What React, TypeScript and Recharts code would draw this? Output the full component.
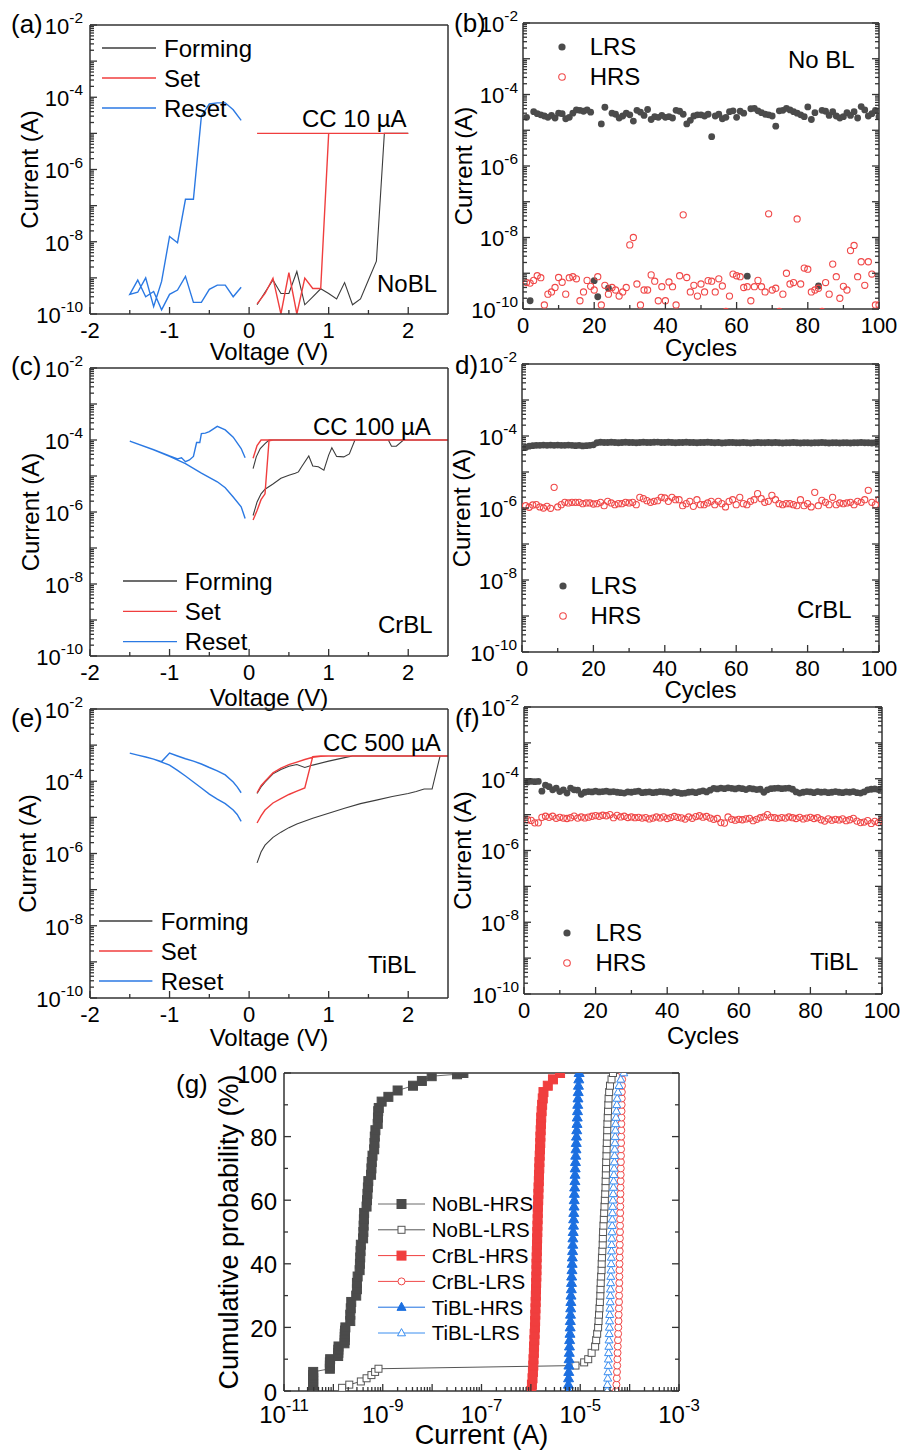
import React from 'react'
import { ComposedChart, Line, Scatter, XAxis, YAxis, Legend } from 'recharts'

const FONT = '"Liberation Sans", Arial, Helvetica, sans-serif'
const INK = '#333333'
const DARK = '#4b4b4b'
const RED = '#f03e3e'
const RED_OPEN = '#f04848'
const BLUE = '#2b79e3'
const LIGHT_BLUE = '#3a8ef0'

// ---------- axis ticks ----------
const DECADES = [1e-10, 1e-9, 1e-8, 1e-7, 1e-6, 1e-5, 1e-4, 1e-3, 1e-2]
const DECADE_LABELS = [1e-10, 1e-8, 1e-6, 1e-4, 1e-2]
const V_TICKS = [-2, -1.5, -1, -0.5, 0, 0.5, 1, 1.5, 2]
const V_LABELS = [-2, -1, 0, 1, 2]
const CYC_TICKS = [0, 10, 20, 30, 40, 50, 60, 70, 80, 90, 100]
const CYC_LABELS = [0, 20, 40, 60, 80, 100]
const G_DECADES = [1e-11, 1e-10, 1e-9, 1e-8, 1e-7, 1e-6, 1e-5, 1e-4, 1e-3]
const G_LABELS = [1e-11, 1e-9, 1e-7, 1e-5, 1e-3]
const PROB_TICKS = [0, 10, 20, 30, 40, 50, 60, 70, 80, 90, 100]
const PROB_LABELS = [0, 20, 40, 60, 80, 100]

// ---------- (a) NoBL I-V ----------
const A_FORM_V = [0.1, 0.2, 0.3, 0.4, 0.5, 0.6, 0.7, 0.8, 0.9, 1.0, 1.1, 1.2, 1.3, 1.4, 1.5, 1.6, 1.7, 1.8, 1.9, 2.0]
const A_FORM_I = [1.8e-10, 4e-10, 8.7e-10, 3.7e-10, 3.7e-10, 1.5e-9, 1.8e-10, 3e-10, 5e-10, 3.7e-10, 2.6e-10, 7.4e-10, 1.8e-10, 2.6e-10, 8.7e-10, 2.9e-9, 1e-5, 1e-5, 1e-5, 1e-5]
const A_SET_V = [0.1, 0.2, 0.3, 0.4, 0.5, 0.6, 0.7, 0.8, 0.9, 1.0, 1.5, 2.0, 1.5, 1.0, 0.5, 0.1]
const A_SET_I = [1.9e-10, 3.7e-10, 9.8e-10, 1e-10, 1.4e-9, 1e-10, 9.8e-10, 5.1e-10, 5.1e-10, 1e-5, 1e-5, 1e-5, 1e-5, 1e-5, 1e-5, 1e-5]
const A_RESET_V = [-0.1, -0.2, -0.3, -0.4, -0.5, -0.6, -0.7, -0.8, -0.9, -1.0, -1.1, -1.2, -1.3, -1.4, -1.5, -1.4, -1.3, -1.2, -1.1, -1.0, -0.9, -0.8, -0.7, -0.6, -0.5, -0.4, -0.3, -0.2, -0.1]
const A_RESET_I = [2.3e-5, 4.5e-5, 7e-5, 7e-5, 6.5e-5, 3e-5, 1.5e-7, 1.5e-7, 9.4e-9, 1.4e-8, 8e-10, 1.6e-10, 1e-9, 4e-10, 3.5e-10, 8.7e-10, 3e-10, 4.2e-10, 1.3e-10, 3.5e-10, 4.6e-10, 1.1e-9, 2.1e-10, 2.1e-10, 4.8e-10, 6.3e-10, 6.3e-10, 3e-10, 5.5e-10]

// ---------- (c) CrBL I-V ----------
const C_FORM_V = [0.05, 0.1, 0.15, 0.2, 0.3, 0.4, 0.5, 0.58, 0.62, 0.66, 0.75, 0.8, 0.87, 0.94, 1.0, 1.04, 1.1, 1.19, 1.26, 1.33, 1.5, 1.75, 1.79, 1.85, 1.94, 2.2, 2.5, 2.0, 1.5, 1.0, 0.5, 0.25, 0.2, 0.14, 0.09, 0.05]
const C_FORM_I = [8e-7, 1.9e-6, 3.2e-6, 4.3e-6, 6e-6, 8.6e-6, 1.05e-5, 1.2e-5, 1.3e-5, 1.8e-5, 3.6e-5, 1.9e-5, 1.8e-5, 1.45e-5, 3.8e-5, 6.1e-5, 3.5e-5, 3.4e-5, 4.1e-5, 1e-4, 1e-4, 1e-4, 6.7e-5, 6.7e-5, 1e-4, 1e-4, 1e-4, 1e-4, 1e-4, 1e-4, 1e-4, 1e-4, 7.9e-5, 5.8e-5, 3.4e-5, 1.6e-5]
const C_SET_V = [0.05, 0.1, 0.15, 0.2, 0.25, 0.3, 1.0, 2.0, 2.5, 2.0, 1.0, 0.3, 0.15, 0.1, 0.05]
const C_SET_I = [6e-7, 1.1e-6, 2.2e-6, 3.2e-6, 9.5e-5, 1e-4, 1e-4, 1e-4, 1e-4, 1e-4, 1e-4, 1e-4, 1e-4, 7e-5, 3.1e-5]
const C_RESET_V = [-0.05, -0.1, -0.2, -0.3, -0.4, -0.5, -0.55, -0.6, -0.62, -0.66, -0.7, -0.75, -0.8, -0.85, -0.9, -1.0, -1.2, -1.5, -1.2, -1.0, -0.8, -0.6, -0.4, -0.3, -0.2, -0.1, -0.05]
const C_RESET_I = [3.2e-5, 5.8e-5, 1.2e-4, 1.9e-4, 2.4e-4, 1.7e-4, 1.55e-4, 1.5e-4, 8.5e-5, 8.5e-5, 3.5e-5, 2.8e-5, 2.5e-5, 3.2e-5, 3.0e-5, 3.6e-5, 5.4e-5, 9.3e-5, 5.3e-5, 3.5e-5, 2.2e-5, 1.2e-5, 6.9e-6, 4.7e-6, 2.6e-6, 1.4e-6, 6.6e-7]

// ---------- (e) TiBL I-V ----------
const E_FORM_V = [0.1, 0.15, 0.2, 0.3, 0.4, 0.5, 0.6, 0.8, 1.0, 1.2, 1.4, 1.6, 1.8, 2.0, 2.1, 2.2, 2.3, 2.4, 2.5, 2.0, 1.5, 1.3, 1.2, 1.0, 0.8, 0.7, 0.6, 0.5, 0.4, 0.3, 0.2, 0.15, 0.1]
const E_FORM_I = [5.5e-7, 1.1e-6, 1.7e-6, 2.8e-6, 3.9e-6, 5.2e-6, 6.6e-6, 9.5e-6, 1.3e-5, 1.8e-5, 2.4e-5, 3e-5, 3.8e-5, 4.6e-5, 5.2e-5, 6.1e-5, 6.1e-5, 5e-4, 5e-4, 5e-4, 5e-4, 5e-4, 4.5e-4, 3.6e-4, 2.8e-4, 2.4e-4, 2.9e-4, 2.6e-4, 2.1e-4, 1.6e-4, 9.5e-5, 7e-5, 4.6e-5]
const E_SET_V = [0.1, 0.15, 0.2, 0.3, 0.4, 0.5, 0.6, 0.7, 0.8, 0.9, 1.5, 2.0, 2.5, 2.0, 1.5, 1.0, 0.9, 0.8, 0.7, 0.6, 0.5, 0.4, 0.3, 0.2, 0.15, 0.1]
const E_SET_I = [7e-6, 1.1e-5, 1.6e-5, 2.5e-5, 3.3e-5, 4.3e-5, 5.3e-5, 6.5e-5, 4.8e-4, 5e-4, 5e-4, 5e-4, 5e-4, 5e-4, 5e-4, 5e-4, 4.9e-4, 4.6e-4, 4e-4, 3.4e-4, 2.9e-4, 2.3e-4, 1.7e-4, 1.0e-4, 7.5e-5, 4.8e-5]
const E_RESET_V = [-0.1, -0.15, -0.2, -0.3, -0.4, -0.5, -0.6, -0.7, -0.8, -0.9, -1.0, -1.1, -1.2, -1.3, -1.4, -1.5, -1.4, -1.3, -1.2, -1.1, -1.0, -0.9, -0.8, -0.7, -0.6, -0.5, -0.4, -0.3, -0.2, -0.15, -0.1]
const E_RESET_I = [4.8e-5, 7e-5, 9.5e-5, 1.5e-4, 1.95e-4, 2.4e-4, 3e-4, 3.6e-4, 4.2e-4, 5e-4, 6e-4, 3.5e-4, 4.1e-4, 4.7e-4, 5.3e-4, 6e-4, 5.3e-4, 4.7e-4, 4.1e-4, 3.4e-4, 2.8e-4, 2e-4, 1.4e-4, 9.5e-5, 6.5e-5, 4.4e-5, 3.2e-5, 2.4e-5, 1.6e-5, 1.2e-5, 7.8e-6]

// ---------- endurance (b, d, f) ----------
const CYCLES = [
  1, 2, 3, 4, 5, 6, 7, 8, 9, 10, 11, 12, 13, 14, 15, 16, 17, 18, 19, 20,
  21, 22, 23, 24, 25, 26, 27, 28, 29, 30, 31, 32, 33, 34, 35, 36, 37, 38, 39, 40,
  41, 42, 43, 44, 45, 46, 47, 48, 49, 50, 51, 52, 53, 54, 55, 56, 57, 58, 59, 60,
  61, 62, 63, 64, 65, 66, 67, 68, 69, 70, 71, 72, 73, 74, 75, 76, 77, 78, 79, 80,
  81, 82, 83, 84, 85, 86, 87, 88, 89, 90, 91, 92, 93, 94, 95, 96, 97, 98, 99, 100,
]

const B_LRS = [
  2.3e-5, 1.7e-10, 3.3e-5, 2.9e-5, 2.7e-5, 2.5e-5, 2.3e-5, 2.6e-5, 2.2e-5, 3.0e-5,
  2.9e-5, 2.1e-5, 2.3e-5, 3.0e-5, 3.7e-5, 3.6e-5, 3.4e-5, 3.7e-5, 3.2e-5, 6.2e-10,
  2.2e-10, 1.5e-5, 4.4e-5, 3.8e-10, 3.0e-5, 2.8e-5, 2.2e-5, 2.5e-5, 3.0e-5, 2.7e-5,
  1.8e-5, 3.6e-5, 3.2e-5, 2.6e-5, 3.8e-5, 2.0e-5, 2.4e-5, 2.3e-5, 2.6e-5, 2.3e-5,
  2.4e-5, 2.2e-5, 3.6e-5, 3.4e-5, 2.8e-5, 1.5e-5, 1.9e-5, 2.5e-5, 2.7e-5, 2.7e-5,
  2.5e-5, 2.8e-5, 6.6e-6, 2.5e-5, 2.8e-5, 2.1e-5, 2.3e-5, 3.3e-5, 3.5e-5, 2.3e-5,
  3.4e-5, 3.0e-5, 8.3e-10, 4.0e-5, 4.1e-5, 3.5e-5, 3.1e-5, 2.8e-5, 2.7e-5, 2.5e-5,
  1.3e-5, 3.5e-5, 3.6e-5, 4.1e-5, 3.7e-5, 3.3e-5, 3.0e-5, 2.7e-5, 2.4e-5, 4.5e-5,
  2.0e-5, 3.1e-5, 4.4e-10, 3.6e-5, 3.4e-5, 2.6e-5, 3.3e-5, 2.5e-5, 2.2e-5, 2.4e-5,
  3.1e-5, 2.6e-5, 3.3e-5, 2.2e-5, 4.6e-5, 3.7e-5, 2.5e-5, 2.9e-5, 3.6e-5, 2.4e-5,
]
const B_HRS = [
  5.5e-10, 5.3e-10, 6.3e-10, 8.5e-10, 7.5e-10, 1.3e-10, 2.6e-10, 3e-10, 4e-10, 7.6e-10,
  5.6e-10, 2.6e-10, 7.5e-10, 8e-10, 7e-10, 1.7e-10, 3e-10, 6.3e-10, 4.3e-10, 3.4e-10,
  8e-10, 1.3e-10, 4.6e-10, 2.6e-10, 4e-10, 3.4e-10, 2.3e-10, 3e-10, 4e-10, 6.2e-9,
  1e-8, 5e-10, 1.3e-10, 3.4e-10, 3.4e-10, 9e-10, 6e-10, 1.7e-10, 4.2e-10, 1.7e-10,
  5.7e-10, 4.2e-10, 1.3e-10, 8.5e-10, 4.3e-8, 7.6e-10, 3e-10, 4.6e-10, 2.3e-10, 5e-10,
  3e-10, 6.2e-10, 6e-10, 3e-10, 7e-10, 4.4e-10, 8.5e-11, 2.3e-10, 9.5e-10, 8.5e-10,
  8e-10, 4e-10, 4.2e-10, 1.7e-10, 4.2e-10, 6.3e-10, 4.2e-10, 3e-10, 4.6e-8, 3.4e-10,
  3.8e-10, 8.5e-11, 2.6e-10, 1e-9, 5e-10, 5.5e-10, 3.3e-8, 5e-10, 1.4e-9, 1.3e-9,
  3e-10, 3.4e-10, 3.8e-10, 8.5e-11, 5.5e-10, 2.6e-10, 1.8e-9, 8e-10, 2e-10, 4.3e-10,
  3.4e-10, 4.3e-9, 6e-9, 8e-10, 2.1e-9, 4.6e-10, 2.1e-9, 9.5e-10, 1.3e-10, 1.3e-10,
]

const D_LRS = [
  4.8e-5, 5.2e-5, 5.4e-5, 5.5e-5, 5.5e-5, 5.6e-5, 5.5e-5, 5.6e-5, 5.5e-5, 5.6e-5,
  5.5e-5, 5.5e-5, 5.6e-5, 5.5e-5, 5.4e-5, 5.5e-5, 5.3e-5, 5.4e-5, 5.5e-5, 5.7e-5,
  6.5e-5, 6.7e-5, 6.6e-5, 6.6e-5, 6.7e-5, 6.6e-5, 6.5e-5, 6.6e-5, 6.7e-5, 6.6e-5,
  6.6e-5, 6.5e-5, 6.6e-5, 6.7e-5, 6.6e-5, 6.6e-5, 6.7e-5, 6.8e-5, 6.6e-5, 6.6e-5,
  6.7e-5, 6.6e-5, 6.5e-5, 6.6e-5, 6.6e-5, 6.7e-5, 6.6e-5, 6.6e-5, 6.5e-5, 6.6e-5,
  6.6e-5, 6.7e-5, 6.6e-5, 6.5e-5, 6.6e-5, 6.4e-5, 6.5e-5, 6.6e-5, 6.6e-5, 6.5e-5,
  6.5e-5, 6.6e-5, 6.5e-5, 6.4e-5, 6.5e-5, 6.6e-5, 6.5e-5, 6.5e-5, 6.6e-5, 6.5e-5,
  6.6e-5, 6.5e-5, 6.4e-5, 6.5e-5, 6.5e-5, 6.6e-5, 6.5e-5, 6.4e-5, 6.5e-5, 6.5e-5,
  6.4e-5, 6.5e-5, 6.5e-5, 6.6e-5, 6.5e-5, 6.4e-5, 6.5e-5, 6.5e-5, 6.4e-5, 6.5e-5,
  6.5e-5, 6.4e-5, 6.5e-5, 6.5e-5, 6.6e-5, 6.5e-5, 6.5e-5, 6.4e-5, 6.5e-5, 6.7e-5,
]
const D_HRS = [
  1.16e-6, 1.05e-6, 1.21e-6, 1.24e-6, 1.07e-6, 1.0e-6, 1.11e-6, 9.8e-7, 3.75e-6, 1.07e-6,
  1.24e-6, 1.44e-6, 1.38e-6, 1.44e-6, 1.44e-6, 1.44e-6, 1.32e-6, 1.38e-6, 1.38e-6, 1.29e-6,
  1.32e-6, 1.44e-6, 1.16e-6, 1.53e-6, 1.38e-6, 1.24e-6, 1.32e-6, 1.32e-6, 1.44e-6, 1.38e-6,
  1.44e-6, 1.24e-6, 1.98e-6, 1.82e-6, 1.6e-6, 1.44e-6, 1.53e-6, 1.6e-6, 1.98e-6, 1.9e-6,
  1.53e-6, 1.98e-6, 1.7e-6, 1.7e-6, 1.16e-6, 1.32e-6, 1.53e-6, 1.11e-6, 1.7e-6, 1.24e-6,
  1.24e-6, 1.38e-6, 1.53e-6, 1.24e-6, 1.53e-6, 1.32e-6, 1.07e-6, 1.53e-6, 1.7e-6, 1.24e-6,
  1.98e-6, 1.32e-6, 1.24e-6, 1.53e-6, 1.7e-6, 2.5e-6, 1.82e-6, 1.44e-6, 1.53e-6, 2.25e-6,
  1.7e-6, 1.32e-6, 1.24e-6, 1.32e-6, 1.32e-6, 1.24e-6, 1.16e-6, 1.7e-6, 1.16e-6, 1.32e-6,
  1.07e-6, 2.72e-6, 1.16e-6, 1.63e-6, 1.44e-6, 1.24e-6, 1.98e-6, 1.24e-6, 1.38e-6, 1.32e-6,
  1.38e-6, 1.44e-6, 1.24e-6, 1.53e-6, 1.44e-6, 1.7e-6, 3.1e-6, 1.44e-6, 1.24e-6, 1.7e-6,
]

const F_LRS = [
  8.1e-5, 8.5e-5, 8.3e-5, 8.4e-5, 4.5e-5, 6.6e-5, 6.0e-5, 4.9e-5, 5.5e-5, 4.4e-5,
  4.9e-5, 4.0e-5, 5.5e-5, 4.9e-5, 4.8e-5, 3.7e-5, 4.2e-5, 4.4e-5, 4.3e-5, 4.5e-5,
  4.3e-5, 4.4e-5, 4.5e-5, 4.3e-5, 4.4e-5, 4.2e-5, 4.1e-5, 4.0e-5, 4.3e-5, 4.2e-5,
  4.4e-5, 4.5e-5, 4.1e-5, 4.2e-5, 4.3e-5, 4.1e-5, 4.2e-5, 4.4e-5, 4.3e-5, 4.2e-5,
  4.0e-5, 4.3e-5, 4.1e-5, 3.9e-5, 4.0e-5, 4.2e-5, 4.3e-5, 4.1e-5, 4.4e-5, 4.6e-5,
  4.3e-5, 4.8e-5, 5.4e-5, 5.2e-5, 5.5e-5, 5.3e-5, 5.6e-5, 5.4e-5, 5.2e-5, 5.5e-5,
  5.3e-5, 5.0e-5, 5.4e-5, 5.2e-5, 5.0e-5, 5.1e-5, 4.2e-5, 4.9e-5, 5.3e-5, 5.4e-5,
  5.5e-5, 5.3e-5, 5.4e-5, 5.5e-5, 5.1e-5, 4.3e-5, 4.0e-5, 4.2e-5, 4.4e-5, 4.3e-5,
  4.1e-5, 4.4e-5, 4.2e-5, 4.3e-5, 4.1e-5, 4.2e-5, 4.4e-5, 4.2e-5, 4.1e-5, 4.3e-5,
  4.2e-5, 4.4e-5, 4.1e-5, 4.0e-5, 4.3e-5, 4.9e-5, 5.1e-5, 5.2e-5, 5.0e-5, 5.3e-5,
]
const F_HRS = [
  7.2e-6, 6.9e-6, 5.9e-6, 5.9e-6, 8.4e-6, 9.0e-6, 8.4e-6, 9.0e-6, 7.9e-6, 8.4e-6,
  8.0e-6, 7.8e-6, 8.2e-6, 9.1e-6, 8.0e-6, 8.6e-6, 8.1e-6, 8.5e-6, 9.0e-6, 9.4e-6,
  9.0e-6, 9.6e-6, 9.3e-6, 1.0e-5, 8.2e-6, 9.5e-6, 8.6e-6, 9.0e-6, 8.3e-6, 8.6e-6,
  8.2e-6, 8.4e-6, 8.0e-6, 8.3e-6, 7.6e-6, 8.0e-6, 8.6e-6, 8.1e-6, 8.7e-6, 7.8e-6,
  8.3e-6, 8.9e-6, 8.4e-6, 8.1e-6, 7.5e-6, 8.6e-6, 7.9e-6, 8.8e-6, 9.3e-6, 8.5e-6,
  8.9e-6, 8.0e-6, 7.4e-6, 7.8e-6, 6.0e-6, 5.8e-6, 8.6e-6, 7.4e-6, 7.0e-6, 7.4e-6,
  7.2e-6, 7.6e-6, 7.9e-6, 6.8e-6, 7.4e-6, 8.2e-6, 8.6e-6, 1.0e-5, 8.4e-6, 8.2e-6,
  7.9e-6, 8.3e-6, 8.0e-6, 8.6e-6, 8.2e-6, 7.8e-6, 8.4e-6, 7.6e-6, 8.0e-6, 8.4e-6,
  7.8e-6, 8.2e-6, 7.2e-6, 6.6e-6, 7.6e-6, 7.0e-6, 7.4e-6, 7.1e-6, 7.6e-6, 6.8e-6,
  7.2e-6, 7.9e-6, 6.6e-6, 6.0e-6, 6.2e-6, 6.8e-6, 5.7e-6, 6.5e-6, 6.0e-6, 7.0e-6,
]

// ---------- (g) cumulative probability ----------
const NOBL_HRS_P = [0, 1, 2, 3, 4, 5, 6, 7, 8, 9, 10, 11, 12, 13, 14, 15, 16, 17, 18, 19, 20, 22, 24, 26, 28, 30, 32, 34, 36, 38, 40, 42, 44, 46, 48, 50, 52, 54, 56, 58, 60, 62, 64, 66, 68, 70, 72, 74, 76, 78, 80, 82, 84, 86, 88, 89, 91, 92.5, 94.5, 96, 97.5, 99, 99.6, 100]
const NOBL_HRS_I = [
  3.9e-11, 3.9e-11, 3.9e-11, 3.9e-11, 3.9e-11, 3.9e-11, 3.9e-11,
  8.5e-11, 8.5e-11, 8.5e-11, 8.6e-11,
  1.25e-10, 1.26e-10, 1.26e-10, 1.27e-10,
  1.68e-10, 1.7e-10, 1.7e-10, 1.7e-10, 1.72e-10, 1.75e-10,
  2.2e-10, 2.2e-10, 2.25e-10, 2.3e-10,
  2.9e-10, 3.0e-10, 3.0e-10, 3.1e-10,
  3.4e-10, 3.45e-10, 3.5e-10, 3.55e-10, 3.6e-10,
  4.0e-10, 4.05e-10, 4.1e-10, 4.15e-10, 4.2e-10,
  4.7e-10, 4.8e-10, 4.9e-10, 5.0e-10, 5.1e-10,
  5.8e-10, 5.9e-10, 6.0e-10, 6.2e-10,
  6.7e-10, 6.8e-10, 6.9e-10, 7.1e-10,
  7.9e-10, 8.0e-10, 8.1e-10, 8.3e-10,
  9.5e-10, 1.3e-9, 2.0e-9, 4.1e-9, 6.2e-9, 9.8e-9, 3.2e-8, 4.3e-8,
]
const NOBL_LRS_P = [1, 2, 3, 4, 5, 6, 7, 8, 9, 10, 12, 14, 16, 18, 20, 22, 24, 26, 28, 30, 32, 34, 36, 38, 40, 42, 44, 46, 48, 50, 52, 54, 56, 58, 60, 62, 64, 66, 68, 70, 72, 74, 76, 78, 80, 82, 84, 86, 88, 90, 92, 94, 96, 98, 100]
const NOBL_LRS_I = [
  1.5e-10, 2.1e-10, 3.6e-10, 4.7e-10, 5.9e-10, 7.0e-10, 8.2e-10, 8.0e-6, 1.2e-5, 1.45e-5,
  1.7e-5, 2.0e-5, 2.1e-5, 2.2e-5, 2.3e-5, 2.35e-5, 2.4e-5, 2.45e-5, 2.5e-5, 2.55e-5,
  2.57e-5, 2.6e-5, 2.65e-5, 2.7e-5, 2.72e-5, 2.75e-5, 2.8e-5, 2.85e-5, 2.87e-5, 2.9e-5,
  2.95e-5, 3.0e-5, 3.05e-5, 3.1e-5, 3.15e-5, 3.2e-5, 3.25e-5, 3.27e-5, 3.3e-5, 3.32e-5,
  3.35e-5, 3.4e-5, 3.42e-5, 3.45e-5, 3.5e-5, 3.52e-5, 3.55e-5, 3.6e-5, 3.65e-5, 3.7e-5,
  3.75e-5, 3.85e-5, 4.0e-5, 4.3e-5, 4.6e-5,
]
const PROB = [0, 2, 4, 6, 8, 10, 12, 14, 16, 18, 20, 22, 24, 26, 28, 30, 32, 34, 36, 38, 40, 42, 44, 46, 48, 50, 52, 54, 56, 58, 60, 62, 64, 66, 68, 70, 72, 74, 76, 78, 80, 82, 84, 86, 88, 90, 92, 94, 96, 98, 100]
const CRBL_HRS_I = [
  1.02e-6, 1.05e-6, 1.08e-6, 1.10e-6, 1.12e-6, 1.13e-6, 1.15e-6, 1.16e-6, 1.18e-6, 1.19e-6,
  1.21e-6, 1.22e-6, 1.23e-6, 1.24e-6, 1.25e-6, 1.26e-6, 1.27e-6, 1.28e-6, 1.29e-6, 1.30e-6,
  1.30e-6, 1.31e-6, 1.32e-6, 1.33e-6, 1.34e-6, 1.35e-6, 1.36e-6, 1.37e-6, 1.38e-6, 1.39e-6,
  1.41e-6, 1.42e-6, 1.43e-6, 1.45e-6, 1.46e-6, 1.48e-6, 1.49e-6, 1.51e-6, 1.53e-6, 1.55e-6,
  1.56e-6, 1.58e-6, 1.60e-6, 1.62e-6, 1.65e-6, 1.69e-6, 1.74e-6, 1.80e-6, 2.2e-6, 2.8e-6, 3.9e-6,
]
const CRBL_LRS_I = [
  5.3e-5, 5.4e-5, 5.5e-5, 5.55e-5, 5.6e-5, 5.65e-5, 5.7e-5, 5.75e-5, 5.8e-5, 5.85e-5,
  5.9e-5, 5.95e-5, 6.0e-5, 6.05e-5, 6.1e-5, 6.12e-5, 6.15e-5, 6.18e-5, 6.2e-5, 6.22e-5,
  6.25e-5, 6.28e-5, 6.3e-5, 6.32e-5, 6.35e-5, 6.38e-5, 6.4e-5, 6.42e-5, 6.45e-5, 6.48e-5,
  6.5e-5, 6.52e-5, 6.55e-5, 6.58e-5, 6.6e-5, 6.62e-5, 6.65e-5, 6.68e-5, 6.7e-5, 6.72e-5,
  6.75e-5, 6.78e-5, 6.8e-5, 6.83e-5, 6.86e-5, 6.9e-5, 6.93e-5, 6.96e-5, 7.0e-5, 7.05e-5, 7.1e-5,
]
const TIBL_HRS_I = [
  5.7e-6, 5.75e-6, 5.8e-6, 5.85e-6, 5.9e-6, 5.95e-6, 6.0e-6, 6.05e-6, 6.1e-6, 6.2e-6,
  6.25e-6, 6.3e-6, 6.35e-6, 6.4e-6, 6.45e-6, 6.5e-6, 6.6e-6, 6.65e-6, 6.7e-6, 6.8e-6,
  6.85e-6, 6.9e-6, 7.0e-6, 7.05e-6, 7.1e-6, 7.2e-6, 7.3e-6, 7.35e-6, 7.4e-6, 7.5e-6,
  7.55e-6, 7.6e-6, 7.7e-6, 7.8e-6, 7.85e-6, 7.9e-6, 8.0e-6, 8.1e-6, 8.2e-6, 8.3e-6,
  8.4e-6, 8.5e-6, 8.6e-6, 8.7e-6, 8.8e-6, 8.9e-6, 9.0e-6, 9.1e-6, 9.2e-6, 9.35e-6, 9.5e-6,
]
const TIBL_LRS_I = [
  3.5e-5, 3.55e-5, 3.6e-5, 3.65e-5, 3.7e-5, 3.72e-5, 3.75e-5, 3.8e-5, 3.83e-5, 3.86e-5,
  3.9e-5, 3.93e-5, 3.96e-5, 4.0e-5, 4.03e-5, 4.06e-5, 4.1e-5, 4.13e-5, 4.16e-5, 4.2e-5,
  4.23e-5, 4.26e-5, 4.3e-5, 4.33e-5, 4.36e-5, 4.4e-5, 4.43e-5, 4.46e-5, 4.5e-5, 4.55e-5,
  4.6e-5, 4.65e-5, 4.7e-5, 4.75e-5, 4.8e-5, 4.85e-5, 4.9e-5, 4.95e-5, 5.0e-5, 5.05e-5,
  5.1e-5, 5.15e-5, 5.2e-5, 5.3e-5, 5.4e-5, 5.5e-5, 5.6e-5, 5.8e-5, 6.1e-5, 6.6e-5, 7.6e-5,
]

const pts = (xs: number[], ys: number[]) => xs.map((x, i) => ({ x, y: ys[i] }))
const withMinors = (decades: number[]) =>
  decades.flatMap((d, i) => (i === decades.length - 1 ? [d] : [d, 2 * d, 3 * d, 4 * d, 5 * d, 6 * d, 7 * d, 8 * d, 9 * d]))

const Y_IV = { log: true, domain: [1e-10, 1e-2], ticks: withMinors(DECADES), labels: DECADE_LABELS, majors: DECADES, fs: 22, gap: 7, dy: 24 }
const Y_END = { ...Y_IV, gap: 5 }
const X_IV = { log: false, domain: [-2, 2.5], ticks: V_TICKS, labels: V_LABELS, majors: V_LABELS, fs: 22, gap: 7, dy: 24 }
const X_END = { log: false, domain: [0, 100], ticks: CYC_TICKS, labels: CYC_LABELS, majors: CYC_LABELS, fs: 22, gap: 7, dy: 24 }
const X_G = { log: true, domain: [1e-11, 1e-3], ticks: withMinors(G_DECADES), labels: G_LABELS, majors: G_DECADES, fs: 24, gap: 6, dy: 32 }
const Y_G = { log: false, domain: [0, 100], ticks: PROB_TICKS, labels: PROB_LABELS, majors: PROB_LABELS, fs: 24, gap: 7, dy: 24 }

function AxisTick(props: any) {
  const { x, y, payload, side, cfg } = props
  const v = payload?.value
  if (v == null || x == null || y == null) return <g />
  const hit = (arr: number[]) =>
    arr.some((a) => (cfg.log ? Math.abs(Math.log10(a) - Math.log10(v)) < 1e-6 : Math.abs(a - v) < 1e-9))
  const labeled = hit(cfg.labels)
  const major = labeled || hit(cfg.majors)
  const len = major ? 7 : 4
  let x2 = x
  let y2 = y
  if (side === 'left') x2 = x + len
  else if (side === 'right') x2 = x - len
  else if (side === 'bottom') y2 = y - len
  else y2 = y + len
  const fs = cfg.fs
  const content = cfg.log ? (
    <>
      <tspan>10</tspan>
      <tspan dy={-fs * 0.48} fontSize={fs * 0.7}>{String(Math.round(Math.log10(v)))}</tspan>
    </>
  ) : (
    String(v)
  )
  let label = null
  if (labeled && side === 'left') {
    label = (
      <text x={x - cfg.gap} y={y + fs * 0.4} textAnchor="end" fontSize={fs} fill="#000" fontFamily={FONT}>
        {content}
      </text>
    )
  } else if (labeled && side === 'bottom') {
    label = (
      <text x={x} y={y + cfg.dy} textAnchor="middle" fontSize={fs} fill="#000" fontFamily={FONT}>
        {content}
      </text>
    )
  }
  return (
    <g>
      <line x1={x} y1={y} x2={x2} y2={y2} stroke={INK} strokeWidth={1.3} />
      {label}
    </g>
  )
}

function Panel(props: any) {
  const { geo, xCfg, yCfg, xTitle, yTitle, xTitleOffset, yTitleOffset, titleFs = 24, topTicks = false, rightTicks = false, xH = 50, bottomPad = 10, rightPad = 12, children } = props
  const L = geo.x0 - 90
  const T = geo.y0 - 25
  const W = geo.x1 - L + rightPad
  const H = geo.y1 - T + xH + bottomPad
  const axisLine = { stroke: INK, strokeWidth: 1.5 }
  const xScale = xCfg.log ? 'log' : 'linear'
  const yScale = yCfg.log ? 'log' : 'linear'
  return (
    <div style={{ position: 'absolute', left: L, top: T, width: W, height: H }}>
      <ComposedChart width={W} height={H} margin={{ top: 23, right: rightPad - 2, bottom: bottomPad, left: 30 }}>
        <XAxis
          type="number"
          dataKey="x"
          scale={xScale}
          domain={xCfg.domain}
          ticks={xCfg.ticks}
          interval={0}
          allowDataOverflow
          height={xH}
          tickSize={0}
          tickMargin={0}
          tickLine={false}
          axisLine={axisLine}
          tick={<AxisTick side="bottom" cfg={xCfg} />}
          label={{ value: xTitle, position: 'insideBottom', offset: xTitleOffset, fontSize: titleFs, fill: '#000', fontFamily: FONT }}
        />
        <XAxis
          xAxisId="top"
          orientation="top"
          type="number"
          scale={xScale}
          domain={xCfg.domain}
          ticks={xCfg.ticks}
          interval={0}
          allowDataOverflow
          height={2}
          tickSize={0}
          tickMargin={0}
          tickLine={false}
          axisLine={axisLine}
          tick={topTicks ? <AxisTick side="top" cfg={xCfg} /> : false}
        />
        <YAxis
          type="number"
          dataKey="y"
          scale={yScale}
          domain={yCfg.domain}
          ticks={yCfg.ticks}
          interval={0}
          allowDataOverflow
          width={60}
          tickSize={0}
          tickMargin={0}
          tickLine={false}
          axisLine={axisLine}
          tick={<AxisTick side="left" cfg={yCfg} />}
          label={{ value: yTitle, angle: -90, position: 'insideLeft', offset: yTitleOffset, fontSize: titleFs, fill: '#000', fontFamily: FONT, style: { textAnchor: 'middle' } }}
        />
        <YAxis
          yAxisId="right"
          orientation="right"
          type="number"
          scale={yScale}
          domain={yCfg.domain}
          ticks={yCfg.ticks}
          interval={0}
          allowDataOverflow
          width={2}
          tickSize={0}
          tickMargin={0}
          tickLine={false}
          axisLine={axisLine}
          tick={rightTicks ? <AxisTick side="right" cfg={yCfg} /> : false}
        />
        {children}
      </ComposedChart>
    </div>
  )
}

// legend with plain line samples (I-V panels)
function lineLegend(items: { name: string; color: string }[], len: number, gap: number, rowH: number) {
  return () => (
    <svg width={len + gap + 110} height={rowH * items.length + 6} style={{ display: 'block', overflow: 'visible' }}>
      {items.map((it, i) => {
        const cy = 15 + i * rowH
        return (
          <g key={it.name}>
            <line x1={0} y1={cy} x2={len} y2={cy} stroke={it.color} strokeWidth={1.3} />
            <text x={len + gap} y={cy + 8.6} fontSize={24} fill="#000" fontFamily={FONT}>
              {it.name}
            </text>
          </g>
        )
      })}
    </svg>
  )
}

// legend with marker samples (endurance panels)
function dotLegend(gap: number) {
  return () => (
    <svg width={120} height={70} style={{ display: 'block', overflow: 'visible' }}>
      <circle cx={8} cy={15} r={3.6} fill={DARK} />
      <text x={8 + gap} y={23} fontSize={24} fill="#000" fontFamily={FONT}>LRS</text>
      <circle cx={8} cy={45} r={3.3} fill="none" stroke={RED_OPEN} strokeWidth={1.1} />
      <text x={8 + gap} y={53} fontSize={24} fill="#000" fontFamily={FONT}>HRS</text>
    </svg>
  )
}

const lrsDot = (p: any) => <circle cx={p.cx} cy={p.cy} r={3.4} fill={DARK} />
const hrsDot = (p: any) => <circle cx={p.cx} cy={p.cy} r={3.1} fill="none" stroke={RED_OPEN} strokeWidth={1.1} />

// (g) markers
function marker(kind: string, cx: number, cy: number, color: string, filled: boolean, size: number, key?: string) {
  const fill = filled ? color : '#fff'
  const h = size / 2
  if (kind === 'square') return <rect key={key} x={cx - h} y={cy - h} width={size} height={size} fill={fill} stroke={color} strokeWidth={1} />
  if (kind === 'circle') return <circle key={key} cx={cx} cy={cy} r={h} fill={fill} stroke={color} strokeWidth={1} />
  return <path key={key} d={`M${cx},${cy - h * 1.1}L${cx + h},${cy + h * 0.7}L${cx - h},${cy + h * 0.7}Z`} fill={fill} stroke={color} strokeWidth={1} />
}

const G_SERIES = [
  { name: 'NoBL-HRS', kind: 'square', color: DARK, line: '#6a6a6a', filled: true, size: 9 },
  { name: 'NoBL-LRS', kind: 'square', color: '#555555', line: '#555555', filled: false, size: 7 },
  { name: 'CrBL-HRS', kind: 'square', color: RED, line: RED, filled: true, size: 9 },
  { name: 'CrBL-LRS', kind: 'circle', color: RED_OPEN, line: RED_OPEN, filled: false, size: 7 },
  { name: 'TiBL-HRS', kind: 'triangle', color: '#1c6fe0', line: '#1c6fe0', filled: true, size: 10 },
  { name: 'TiBL-LRS', kind: 'triangle', color: LIGHT_BLUE, line: LIGHT_BLUE, filled: false, size: 8 },
]
const G_DATA = [
  pts(NOBL_HRS_I, NOBL_HRS_P),
  pts(NOBL_LRS_I, NOBL_LRS_P),
  pts(CRBL_HRS_I, PROB),
  pts(CRBL_LRS_I, PROB),
  pts(TIBL_HRS_I, PROB),
  pts(TIBL_LRS_I, PROB),
]

function gLegend() {
  const rowH = 25.8
  return (
    <svg width={170} height={rowH * 6 + 10} style={{ display: 'block', overflow: 'visible' }}>
      {G_SERIES.map((s, i) => {
        const cy = 15 + i * rowH
        return (
          <g key={s.name}>
            <line x1={0} y1={cy} x2={47} y2={cy} stroke={s.line} strokeWidth={1} />
            {marker(s.kind, 23.5, cy, s.color, s.filled, Math.min(s.size, 9))}
            <text x={53.7} y={cy + 7.4} fontSize={20.5} fill="#000" fontFamily={FONT}>
              {s.name}
            </text>
          </g>
        )
      })}
    </svg>
  )
}

const IV_ITEMS = [
  { name: 'Forming', color: '#3c3c3c' },
  { name: 'Set', color: RED },
  { name: 'Reset', color: BLUE },
]

const GEO_A = { x0: 90, x1: 448, y0: 25, y1: 314 }
const GEO_B = { x0: 523, x1: 879, y0: 23, y1: 309 }
const GEO_C = { x0: 90, x1: 448, y0: 368, y1: 656 }
const GEO_D = { x0: 522, x1: 879, y0: 364, y1: 652 }
const GEO_E = { x0: 90, x1: 448, y0: 709, y1: 998 }
const GEO_F = { x0: 524, x1: 882, y0: 707, y1: 994 }
const GEO_G = { x0: 284, x1: 679, y0: 1073, y1: 1391 }

function legendAt(geo: any, absX: number, absY: number, content: any) {
  return (
    <Legend
      layout="vertical"
      align="center"
      verticalAlign="middle"
      wrapperStyle={{ left: absX - (geo.x0 - 90), top: absY - (geo.y0 - 25), width: 'auto', height: 'auto', margin: 0, padding: 0 }}
      content={content}
    />
  )
}

function ivSeries(formV: number[], formI: number[], setV: number[], setI: number[], resetV: number[], resetI: number[]) {
  return [
    <Line key="f" name="Forming" data={pts(formV, formI)} dataKey="y" type="linear" stroke="#3c3c3c" strokeWidth={1.1} dot={false} isAnimationActive={false} />,
    <Line key="s" name="Set" data={pts(setV, setI)} dataKey="y" type="linear" stroke={RED} strokeWidth={1.4} dot={false} isAnimationActive={false} />,
    <Line key="r" name="Reset" data={pts(resetV, resetI)} dataKey="y" type="linear" stroke={BLUE} strokeWidth={1.4} dot={false} isAnimationActive={false} />,
  ]
}

function enduranceSeries(lrs: number[], hrs: number[]) {
  return [
    <Scatter key="l" name="LRS" data={pts(CYCLES, lrs)} fill={DARK} shape={lrsDot} isAnimationActive={false} />,
    <Scatter key="h" name="HRS" data={pts(CYCLES, hrs)} fill={RED_OPEN} shape={hrsDot} isAnimationActive={false} />,
  ]
}

const NOTES = [
  { t: '(a)', x: 11, y: 33, fs: 26 },
  { t: '(b)', x: 454, y: 32, fs: 26 },
  { t: '(c)', x: 11, y: 375, fs: 26 },
  { t: 'd)', x: 455, y: 374, fs: 26 },
  { t: '(e)', x: 11, y: 727, fs: 26 },
  { t: '(f)', x: 455, y: 727, fs: 26 },
  { t: '(g)', x: 176, y: 1093, fs: 26 },
  { t: 'CC 10 µA', x: 302, y: 127, fs: 24 },
  { t: 'NoBL', x: 377, y: 292, fs: 24 },
  { t: 'No BL', x: 788, y: 68, fs: 24 },
  { t: 'CC 100 µA', x: 313, y: 435, fs: 24 },
  { t: 'CrBL', x: 378, y: 633, fs: 24 },
  { t: 'CrBL', x: 797, y: 618, fs: 24 },
  { t: 'CC 500 µA', x: 323, y: 751, fs: 24 },
  { t: 'TiBL', x: 368, y: 973, fs: 24 },
  { t: 'TiBL', x: 810, y: 970, fs: 24 },
]

export default function App() {
  return (
    <div style={{ position: 'absolute', left: 0, top: 0, width: 902, height: 1454, overflow: 'hidden', background: '#fff', fontFamily: FONT }}>
      <Panel geo={GEO_A} xCfg={X_IV} yCfg={Y_IV} xTitle="Voltage (V)" yTitle="Current (A)" xTitleOffset={4} yTitleOffset={-1}>
        {ivSeries(A_FORM_V, A_FORM_I, A_SET_V, A_SET_I, A_RESET_V, A_RESET_I)}
        {legendAt(GEO_A, 102, 33, lineLegend(IV_ITEMS, 54, 8, 30))}
      </Panel>
      <Panel geo={GEO_B} xCfg={X_END} yCfg={Y_END} xTitle="Cycles" yTitle="Current (A)" xTitleOffset={3} yTitleOffset={0} rightTicks rightPad={22}>
        {enduranceSeries(B_LRS, B_HRS)}
        {legendAt(GEO_B, 554.3, 32.3, dotLegend(27.7))}
      </Panel>
      <Panel geo={GEO_C} xCfg={X_IV} yCfg={Y_IV} xTitle="Voltage (V)" yTitle="Current (A)" xTitleOffset={0} yTitleOffset={0}>
        {ivSeries(C_FORM_V, C_FORM_I, C_SET_V, C_SET_I, C_RESET_V, C_RESET_I)}
        {legendAt(GEO_C, 123.3, 566, lineLegend(IV_ITEMS, 54, 7.7, 30.3))}
      </Panel>
      <Panel geo={GEO_D} xCfg={X_END} yCfg={Y_END} xTitle="Cycles" yTitle="Current (A)" xTitleOffset={4} yTitleOffset={-1} rightTicks rightPad={22}>
        {enduranceSeries(D_LRS, D_HRS)}
        {legendAt(GEO_D, 555.3, 570.7, dotLegend(27.4))}
      </Panel>
      <Panel geo={GEO_E} xCfg={X_IV} yCfg={Y_IV} xTitle="Voltage (V)" yTitle="Current (A)" xTitleOffset={2} yTitleOffset={-2.5}>
        {ivSeries(E_FORM_V, E_FORM_I, E_SET_V, E_SET_I, E_RESET_V, E_RESET_I)}
        {legendAt(GEO_E, 99.3, 906, lineLegend(IV_ITEMS, 53.4, 8.3, 30))}
      </Panel>
      <Panel geo={GEO_F} xCfg={X_END} yCfg={Y_END} xTitle="Cycles" yTitle="Current (A)" xTitleOffset={0} yTitleOffset={-2} rightTicks rightPad={20}>
        {enduranceSeries(F_LRS, F_HRS)}
        {legendAt(GEO_F, 559.3, 918.3, dotLegend(28.4))}
      </Panel>
      <Panel
        geo={GEO_G}
        xCfg={X_G}
        yCfg={Y_G}
        xTitle="Current (A)"
        yTitle="Cumulative probability (%)"
        xTitleOffset={7}
        yTitleOffset={4}
        titleFs={27}
        topTicks
        rightTicks
        xH={60}
        bottomPad={3}
        rightPad={40}
      >
        {G_SERIES.map((s, i) => (
          <Line
            key={s.name}
            name={s.name}
            data={G_DATA[i]}
            dataKey="y"
            type="linear"
            stroke={s.line}
            strokeWidth={1}
            isAnimationActive={false}
            dot={(p: any) =>
              p.cx == null ? <g key={`${s.name}-${p.index}`} /> : marker(s.kind, p.cx, p.cy, s.color, s.filled, s.size, `${s.name}-${p.index}`)
            }
          />
        ))}
        {legendAt(GEO_G, 378, 1189, gLegend)}
      </Panel>
      <svg width={902} height={1454} style={{ position: 'absolute', left: 0, top: 0, pointerEvents: 'none' }}>
        {NOTES.map((n, i) => (
          <text key={i} x={n.x} y={n.y} fontSize={n.fs} fill="#000" fontFamily={FONT}>
            {n.t}
          </text>
        ))}
      </svg>
    </div>
  )
}
